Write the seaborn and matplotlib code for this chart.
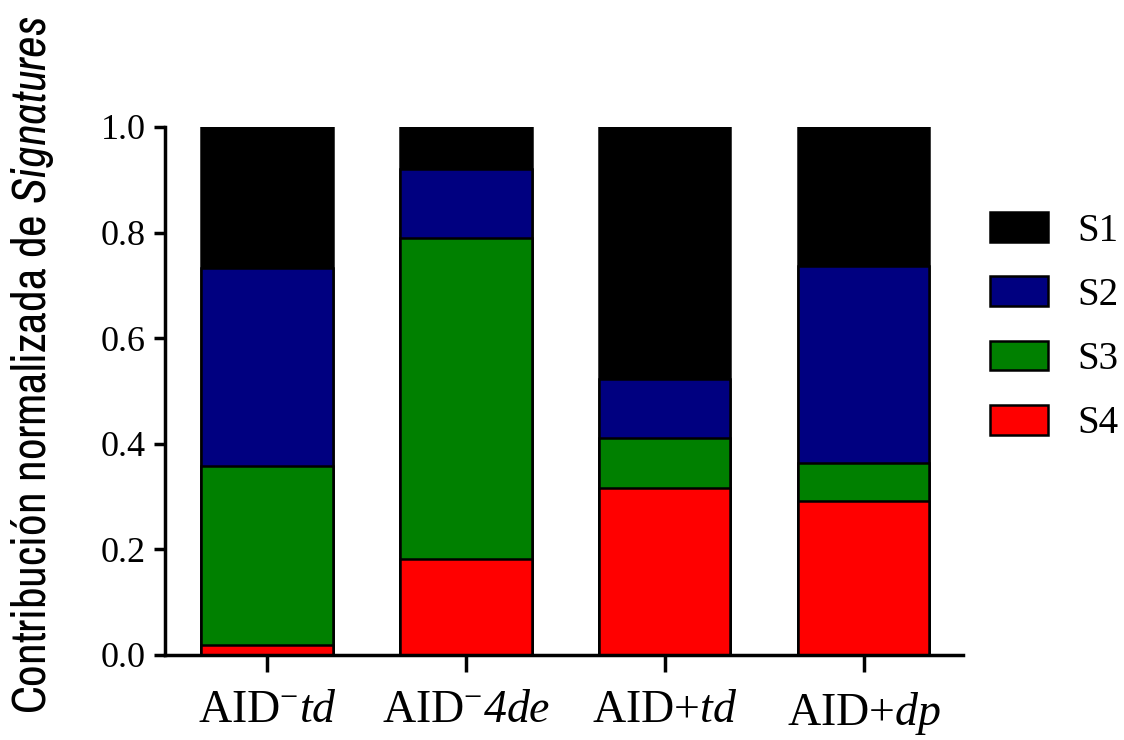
import numpy as np
import pandas as pd
import matplotlib
matplotlib.use("Agg")
import matplotlib.pyplot as plt
from matplotlib import font_manager
from matplotlib.font_manager import FontProperties
from matplotlib.patches import Patch
import seaborn as sns

# дані (частки кожної сигнатури в стовпчику)
groups = ["AID-td", "AID-4de", "AID+td", "AID+dp"]
# \mathbf тут = курсив Liberation Serif (див. rcParams нижче), щоб цифра 4 теж була курсивом
tick_labels = [r"AID$^{-}$$\mathbf{td}$", r"AID$^{-}$$\mathbf{4de}$",
               r"AID+$\mathbf{td}$", r"AID+$\mathbf{dp}$"]
signatures = ["S1", "S2", "S3", "S4"]
s1 = [0.267, 0.080, 0.477, 0.263]
s2 = [0.375, 0.130, 0.112, 0.373]
s3 = [0.339, 0.608, 0.095, 0.072]
s4 = [0.019, 0.182, 0.316, 0.292]
colors = {"S1": "#000000", "S2": "#000080", "S3": "#008000", "S4": "#ff0000"}

sns.set_style("ticks", {"axes.edgecolor": "black", "text.color": "black",
                        "xtick.color": "black", "ytick.color": "black",
                        "axes.labelcolor": "black"})

# шукаємо вузький шрифт для підпису осі Y
fonts = font_manager.fontManager.ttflist
narrow_fam, narrow_stretch = "Liberation Sans", "normal"
for f in fonts:
    if "Narrow" in f.name or "Condensed" in f.name:
        narrow_fam, narrow_stretch = f.name, "normal"
        break
else:
    for f in fonts:
        if f.name in ("DejaVu Sans", "Roboto", "Open Sans", "Noto Sans") and \
                str(f.stretch) in ("condensed", "semi-condensed", "75", "87.5"):
            narrow_fam, narrow_stretch = f.name, "condensed"
            break

plt.rcParams["font.family"] = ["Liberation Serif", "DejaVu Serif"]
plt.rcParams["mathtext.fontset"] = "custom"
plt.rcParams["mathtext.rm"] = "Liberation Serif"
plt.rcParams["mathtext.it"] = "Liberation Serif:italic"
plt.rcParams["mathtext.bf"] = "Liberation Serif:italic"
plt.rcParams["mathtext.sf"] = f"{narrow_fam}:italic:stretch={narrow_stretch}"

df = pd.DataFrame({"group": groups, "S1": s1, "S2": s2, "S3": s3, "S4": s4})
# накопичені суми, від низу (S4) до верху (S1)
df["c4"] = df["S4"]
df["c3"] = df["c4"] + df["S3"]
df["c2"] = df["c3"] + df["S2"]
df["c1"] = df["c2"] + df["S1"]

fig = plt.figure(figsize=(11.24, 7.4), dpi=100)
ax = fig.add_axes([0.1468, 0.1149, 0.7100, 0.7135])

for col, sig in [("c1", "S1"), ("c2", "S2"), ("c3", "S3"), ("c4", "S4")]:
    sns.barplot(data=df, x="group", y=col, color=colors[sig], saturation=1,
                width=0.66, edgecolor="black", linewidth=1.8, ax=ax)

ax.set_xlim(-0.513, 3.5)
ax.set_ylim(0, 1.0)
ax.set_yticks(np.arange(0, 1.01, 0.2))
ax.set_yticklabels([f"{v:.1f}" for v in np.arange(0, 1.01, 0.2)], fontsize=26)
ax.set_xticks(range(len(groups)))
ax.set_xticklabels(tick_labels, fontsize=33)
ax.set_xlabel("")
ylab_fp = FontProperties(family=narrow_fam, stretch=narrow_stretch, size=34)
ax.set_ylabel(r"Contribución normalizada de $\mathsf{Signatures}$",
              fontproperties=ylab_fp)
ax.yaxis.set_label_coords(-0.136, 0.55)

sns.despine(ax=ax)
ax.spines["left"].set_linewidth(2.5)
ax.spines["bottom"].set_linewidth(2.5)
ax.tick_params(axis="y", length=8, width=2.5, pad=6)
ax.tick_params(axis="x", length=12, width=2.5, pad=13)

handles = [Patch(facecolor=colors[s], edgecolor="black", linewidth=1.8) for s in signatures]
ax.legend(handles, signatures, loc="upper left", bbox_to_anchor=(0.99, 0.905),
          frameon=False, fontsize=28, handlelength=1.5, handleheight=0.8,
          labelspacing=0.69, handletextpad=0.75)

fig.savefig("out.png", dpi=100)
